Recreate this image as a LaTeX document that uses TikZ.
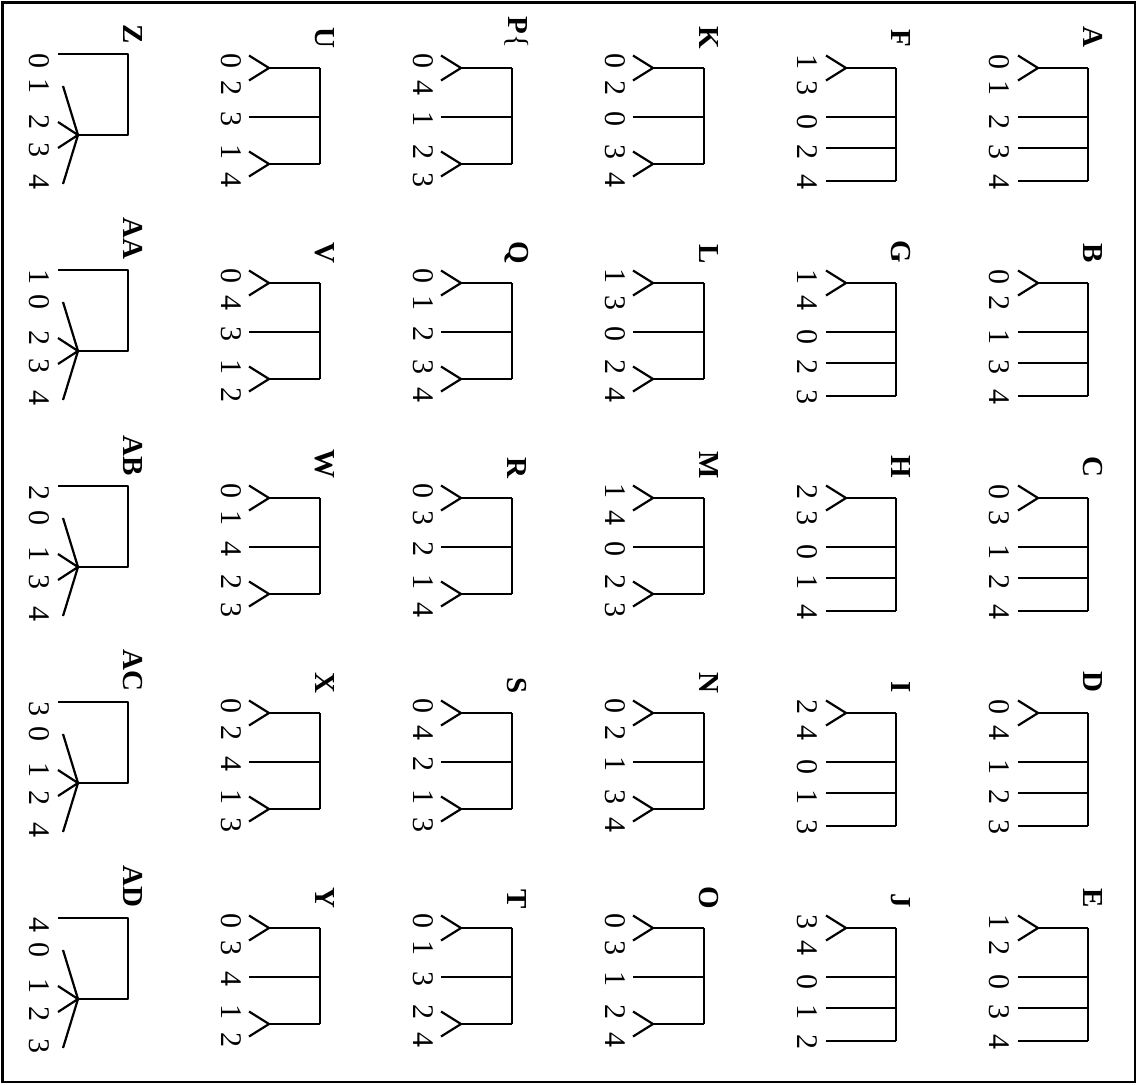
\documentclass[tikz,border=0pt]{standalone}
\usepackage{fontspec}
\setmainfont{Liberation Serif}
\newcommand\Plabel{P{\mdseries\{}}
\tikzset{
  tree/.style={line width=1.1pt, line join=round},
  frame/.style={line width=1.2pt},
  digit/.style={rotate=-90, inner sep=0pt, font=\fontsize{15}{16}\selectfont},
  lbl/.style={rotate=-90, inner sep=0pt, anchor=east, font=\fontsize{14.5}{15}\selectfont\bfseries}
}
\begin{document}
\begin{tikzpicture}[x=0.5pt,y=-0.5pt]
\useasboundingbox (0,0) rectangle (1137,1084);
\draw[frame] (2.5,2.5) rectangle (1135,1082);
\foreach \t/\R/\r/\txt/\a/\b/\c/\d/\e [count=\n] in {
 1/1088/0/A/0/1/2/3/4,
 1/1088/1/B/0/2/1/3/4,
 1/1088/2/C/0/3/1/2/4,
 1/1088/3/D/0/4/1/2/3,
 1/1088/4/E/1/2/0/3/4,
 1/896/0/F/1/3/0/2/4,
 1/896/1/G/1/4/0/2/3,
 1/896/2/H/2/3/0/1/4,
 1/896/3/I/2/4/0/1/3,
 1/896/4/J/3/4/0/1/2,
 2/704/0/K/0/2/0/3/4,
 2/704/1/L/1/3/0/2/4,
 2/704/2/M/1/4/0/2/3,
 2/704/3/N/0/2/1/3/4,
 2/704/4/O/0/3/1/2/4,
 2/512/0/\Plabel/0/4/1/2/3,
 2/512/1/Q/0/1/2/3/4,
 2/512/2/R/0/3/2/1/4,
 2/512/3/S/0/4/2/1/3,
 2/512/4/T/0/1/3/2/4,
 2/320/0/U/0/2/3/1/4,
 2/320/1/V/0/4/3/1/2,
 2/320/2/W/0/1/4/2/3,
 2/320/3/X/0/2/4/1/3,
 2/320/4/Y/0/3/4/1/2,
 3/128/0/Z/0/1/2/3/4,
 3/128/1/AA/1/0/2/3/4,
 3/128/2/AB/2/0/1/3/4,
 3/128/3/AC/3/0/1/2/4,
 3/128/4/AD/4/0/1/2/3}{
  \pgfmathsetmacro\Y{\r*(\t==3?216:215)}
  \ifcase\t\or
    % comb tree: one fork, three single leaves
    \draw[tree] (\R,{\Y+68}) -- (\R,{\Y+181});
    \draw[tree] (\R,{\Y+68}) -- ({\R-50},{\Y+68});
    \draw[tree] ({\R-70},{\Y+55.5}) -- ({\R-50},{\Y+68}) -- ({\R-70},{\Y+80.5});
    \foreach \yy in {117,148,181}
      \draw[tree] (\R,{\Y+\yy}) -- ({\R-70},{\Y+\yy});
    \def\ya{62}\def\yb{88}\def\yc{122}\def\yd{152}\def\ye{182}
    \def\ly{48}
  \or
    % two forks and one single leaf
    \draw[tree] (\R,{\Y+68}) -- (\R,{\Y+164});
    \draw[tree] (\R,{\Y+68}) -- ({\R-51},{\Y+68});
    \draw[tree] ({\R-71},{\Y+55.5}) -- ({\R-51},{\Y+68}) -- ({\R-71},{\Y+80.5});
    \draw[tree] (\R,{\Y+117}) -- ({\R-71},{\Y+117});
    \draw[tree] (\R,{\Y+164}) -- ({\R-51},{\Y+164});
    \draw[tree] ({\R-71},{\Y+151.5}) -- ({\R-51},{\Y+164}) -- ({\R-71},{\Y+176.5});
    \def\ya{61}\def\yb{88}\def\yc{119}\def\yd{152}\def\ye{180}
    \def\ly{49}
  \or
    % one leaf and a fan of four
    \draw[tree] ({\R-70},{\Y+54}) -- (\R,{\Y+54}) -- (\R,{\Y+135}) -- ({\R-50},{\Y+135});
    \draw[tree] ({\R-65},{\Y+86}) -- ({\R-50},{\Y+135}) -- ({\R-65},{\Y+184});
    \draw[tree] ({\R-70},{\Y+122}) -- ({\R-50},{\Y+135}) -- ({\R-70},{\Y+148});
    \def\ya{61}\def\yb{86}\def\yc{122}\def\yd{150}\def\ye{182}
    \def\ly{44}
  \fi
  \node[lbl] (L\n) at ({\R+5},{\Y+\ly}) {\txt};
  \node[digit] (D\n a) at ({\R-89},{\Y+\ya}) {\a};
  \node[digit] (D\n b) at ({\R-89},{\Y+\yb}) {\b};
  \node[digit] (D\n c) at ({\R-89},{\Y+\yc}) {\c};
  \node[digit] (D\n d) at ({\R-89},{\Y+\yd}) {\d};
  \node[digit] (D\n e) at ({\R-89},{\Y+\ye}) {\e};
}
\end{tikzpicture}
\end{document}
